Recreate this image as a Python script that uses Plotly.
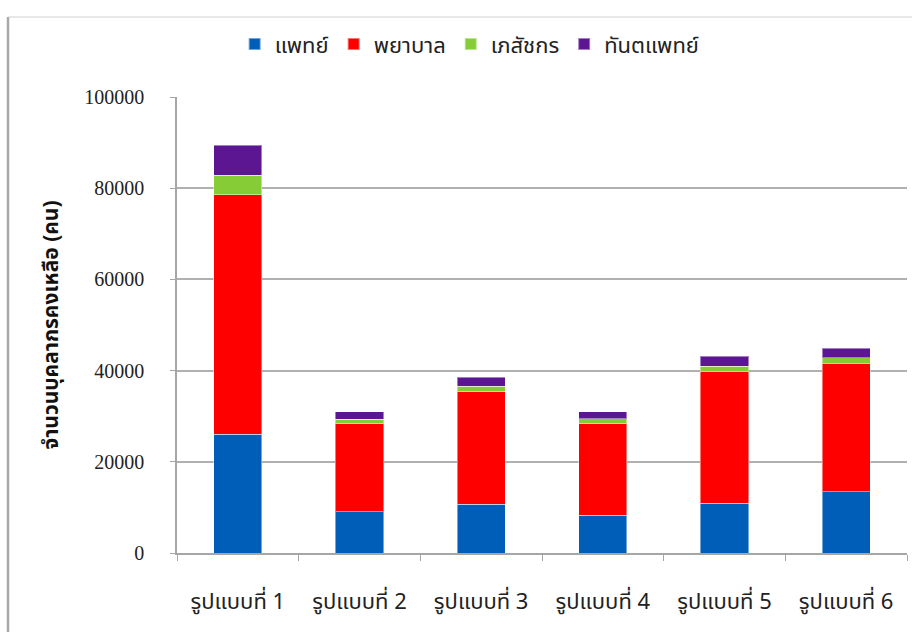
import plotly.graph_objects as go

# Remaining health personnel by scenario (persons)
categories = ["รูปแบบที่ 1", "รูปแบบที่ 2", "รูปแบบที่ 3", "รูปแบบที่ 4", "รูปแบบที่ 5", "รูปแบบที่ 6"]
doctors = [26000, 9000, 10700, 8300, 10900, 13400]
nurses = [52600, 19400, 24700, 20100, 29000, 28200]
pharmacists = [4200, 900, 1200, 1000, 1100, 1200]
dentists = [6600, 1700, 1900, 1600, 2100, 2100]

series = [
    ("แพทย์", doctors, "#005EB8"),
    ("พยาบาล", nurses, "#FF0000"),
    ("เภสัชกร", pharmacists, "#86CC36"),
    ("ทันตแพทย์", dentists, "#5C1691"),
]

thai_font = "Tahoma, 'Noto Sans Thai', 'Leelawadee UI', sans-serif"

fig = go.Figure()
for name, vals, color in series:
    fig.add_trace(go.Bar(
        x=categories, y=vals, name=name,
        marker=dict(color=color, line=dict(color="rgba(255,255,255,0.45)", width=1)),
    ))

L, R, T, B = 177, 5, 97, 79
W, H = 912, 632
pw, ph = W - L - R, H - T - B

fig.update_layout(
    barmode="stack",
    bargap=0.605,
    width=W, height=H,
    margin=dict(l=L, r=R, t=T, b=B),
    paper_bgcolor="white",
    plot_bgcolor="white",
    showlegend=True,
    legend=dict(
        orientation="h",
        xref="container", yref="container",
        x=0.515, xanchor="center",
        y=0.93, yanchor="middle",
        font=dict(family=thai_font, size=22, color="#222"),
        itemsizing="constant",
        traceorder="normal",
        tracegroupgap=0,
    ),
    xaxis=dict(
        showline=True, linecolor="#A6A6A6", linewidth=1.5,
        ticks="outside", ticklen=6, tickcolor="#A6A6A6", tickwidth=1,
        tickson="boundaries",
        tickfont=dict(family=thai_font, size=22, color="#222"),
        ticklabelstandoff=28,
        showgrid=False,
    ),
    yaxis=dict(
        range=[0, 100000], dtick=20000,
        showline=True, linecolor="#A6A6A6", linewidth=1.5,
        ticks="outside", ticklen=5, tickcolor="#A6A6A6",
        showgrid=True, gridcolor="#B0B0B0", gridwidth=1.5,
        tickformat="d",
        tickfont=dict(family="'Liberation Serif', 'Times New Roman', serif", size=20, color="#222"),
        ticklabelstandoff=22,
        title=dict(
            text="<b>จำนวนบุคลากรคงเหลือ (คน)</b>",
            font=dict(family=thai_font, size=21, color="#111"),
            standoff=20,
        ),
    ),
)

# Outer chart frame: left and top edges
fig.add_shape(type="line", xref="paper", yref="paper",
              x0=(8 - L) / pw, x1=(8 - L) / pw, y0=(H - B - 17) / ph, y1=(H - B - H - 5) / ph,
              line=dict(color="#A8A8A8", width=2.5))
fig.add_shape(type="line", xref="paper", yref="paper",
              x0=(8 - L) / pw, x1=(W + 5 - L) / pw, y0=(H - B - 17) / ph, y1=(H - B - 17) / ph,
              line=dict(color="#D0D0D0", width=1))

fig.write_html("out.html")
